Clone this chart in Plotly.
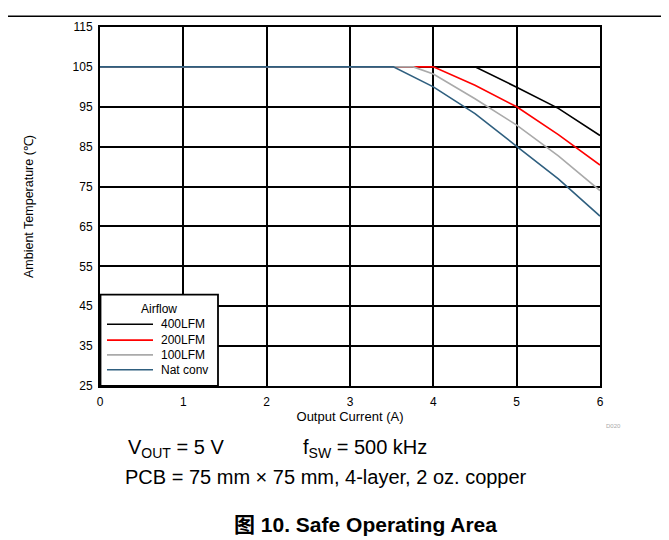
import plotly.graph_objects as go

series_names = ["400LFM", "200LFM", "100LFM", "Nat conv"]
series_colors = ["#000000", "#ff0000", "#aaaaaa", "#2f5f7f"]
x_400 = [0, 4.5, 5.0, 5.5, 6.0]
y_400 = [105, 105, 99.9, 94.6, 87.8]
x_200 = [0, 4.0, 4.5, 5.0, 5.5, 6.0]
y_200 = [105, 105, 100.4, 95.0, 88.0, 80.4]
x_100 = [0, 3.76, 4.0, 4.5, 5.0, 5.5, 6.0]
y_100 = [105, 105, 103.2, 97.0, 90.4, 82.7, 74.0]
x_nat = [0, 3.52, 4.0, 4.5, 5.0, 5.5, 6.0]
y_nat = [105, 105, 100.0, 93.3, 85.1, 76.9, 67.6]
x_ticks = [0, 1, 2, 3, 4, 5, 6]
y_ticks = [25, 35, 45, 55, 65, 75, 85, 95, 105, 115]

FONT = "Liberation Sans, Arial, sans-serif"
BOLD_FONT = "Liberation Sans, Noto Sans CJK SC, sans-serif"

# plot-area pixel geometry in the reference image
PL, PT, PW, PH = 100, 23, 500, 363.5


def px(x):
    return (x - PL) / PW


def py(y):
    return 1 - (y - PT) / PH


fig = go.Figure()
for name, color, xs, ys in zip(series_names, series_colors,
                               [x_400, x_200, x_100, x_nat],
                               [y_400, y_200, y_100, y_nat]):
    fig.add_trace(go.Scatter(x=xs, y=ys, mode="lines", name=name,
                             line=dict(color=color, width=1.6), showlegend=False))

axis_common = dict(showgrid=True, gridcolor="#000000", gridwidth=1.5,
                   showline=True, linecolor="#000000", linewidth=2, mirror=True,
                   zeroline=False, ticks="", tickfont=dict(size=12, color="#000000", family=FONT))
fig.update_xaxes(range=[0, 6], tickvals=x_ticks, ticklabelstandoff=4,
                 title=dict(text="Output Current (A)", font=dict(size=13, color="#000"), standoff=0),
                 **axis_common)
fig.update_yaxes(range=[25, 115], tickvals=y_ticks, ticklabelstandoff=3,
                 title=dict(text="Ambient Temperature (℃)", font=dict(size=12.5, color="#000"), standoff=36),
                 **axis_common)

W, H = 661, 532
fig.update_layout(
    width=W, height=H,
    margin=dict(l=PL - 8, r=W - (PL - 8) - PW, t=PT - 8, b=H - (PT - 8) - PH),
    paper_bgcolor="white", plot_bgcolor="white",
    font=dict(family=FONT, color="#000"),
    showlegend=False,
)

# top rule
fig.add_shape(type="line", xref="paper", yref="paper", x0=px(-20), x1=px(700),
              y0=py(12), y1=py(12), line=dict(color="#000", width=1.5))

# legend (drawn manually for compact spacing)
fig.add_shape(type="rect", xref="paper", yref="paper", x0=px(100.5), x1=px(218),
              y0=py(386.5), y1=py(294), fillcolor="white", line=dict(color="#000", width=1.8))
fig.add_annotation(text="Airflow", x=px(159), y=py(309), xref="paper", yref="paper",
                   showarrow=False, xanchor="center", yanchor="middle",
                   font=dict(size=12, color="#000", family=FONT))
legend_y = [324, 340, 355, 370]
for name, color, ly in zip(series_names, series_colors, legend_y):
    fig.add_shape(type="line", xref="paper", yref="paper", x0=px(107), x1=px(153),
                  y0=py(ly), y1=py(ly), line=dict(color=color, width=1.6))
    fig.add_annotation(text=name, x=px(159), y=py(ly), xref="paper", yref="paper",
                       showarrow=False, xanchor="left", yanchor="middle",
                       font=dict(size=12, color="#000", family=FONT))

ann = [
    dict(text="V<sub>OUT</sub> = 5 V", x=126, y=450, size=20, anchor="left", fam=FONT, color="#000"),
    dict(text="f<sub>SW</sub> = 500 kHz", x=301, y=450, size=20, anchor="left", fam=FONT, color="#000"),
    dict(text="PCB = 75 mm × 75 mm, 4-layer, 2 oz. copper", x=123, y=479, size=20, anchor="left", fam=FONT, color="#000"),
    dict(text="<b>图 10. Safe Operating Area</b>", x=365, y=527, size=21, anchor="center", fam=BOLD_FONT, color="#000"),
    dict(text="D020", x=613, y=427, size=6, anchor="center", fam=FONT, color="#aaaaaa"),
]
for a in ann:
    fig.add_annotation(text=a["text"], x=px(a["x"]), y=py(a["y"]), xref="paper", yref="paper",
                       xanchor=a["anchor"], yanchor="middle", showarrow=False,
                       font=dict(size=a["size"], color=a["color"], family=a["fam"]))

fig.write_html("out.html")
